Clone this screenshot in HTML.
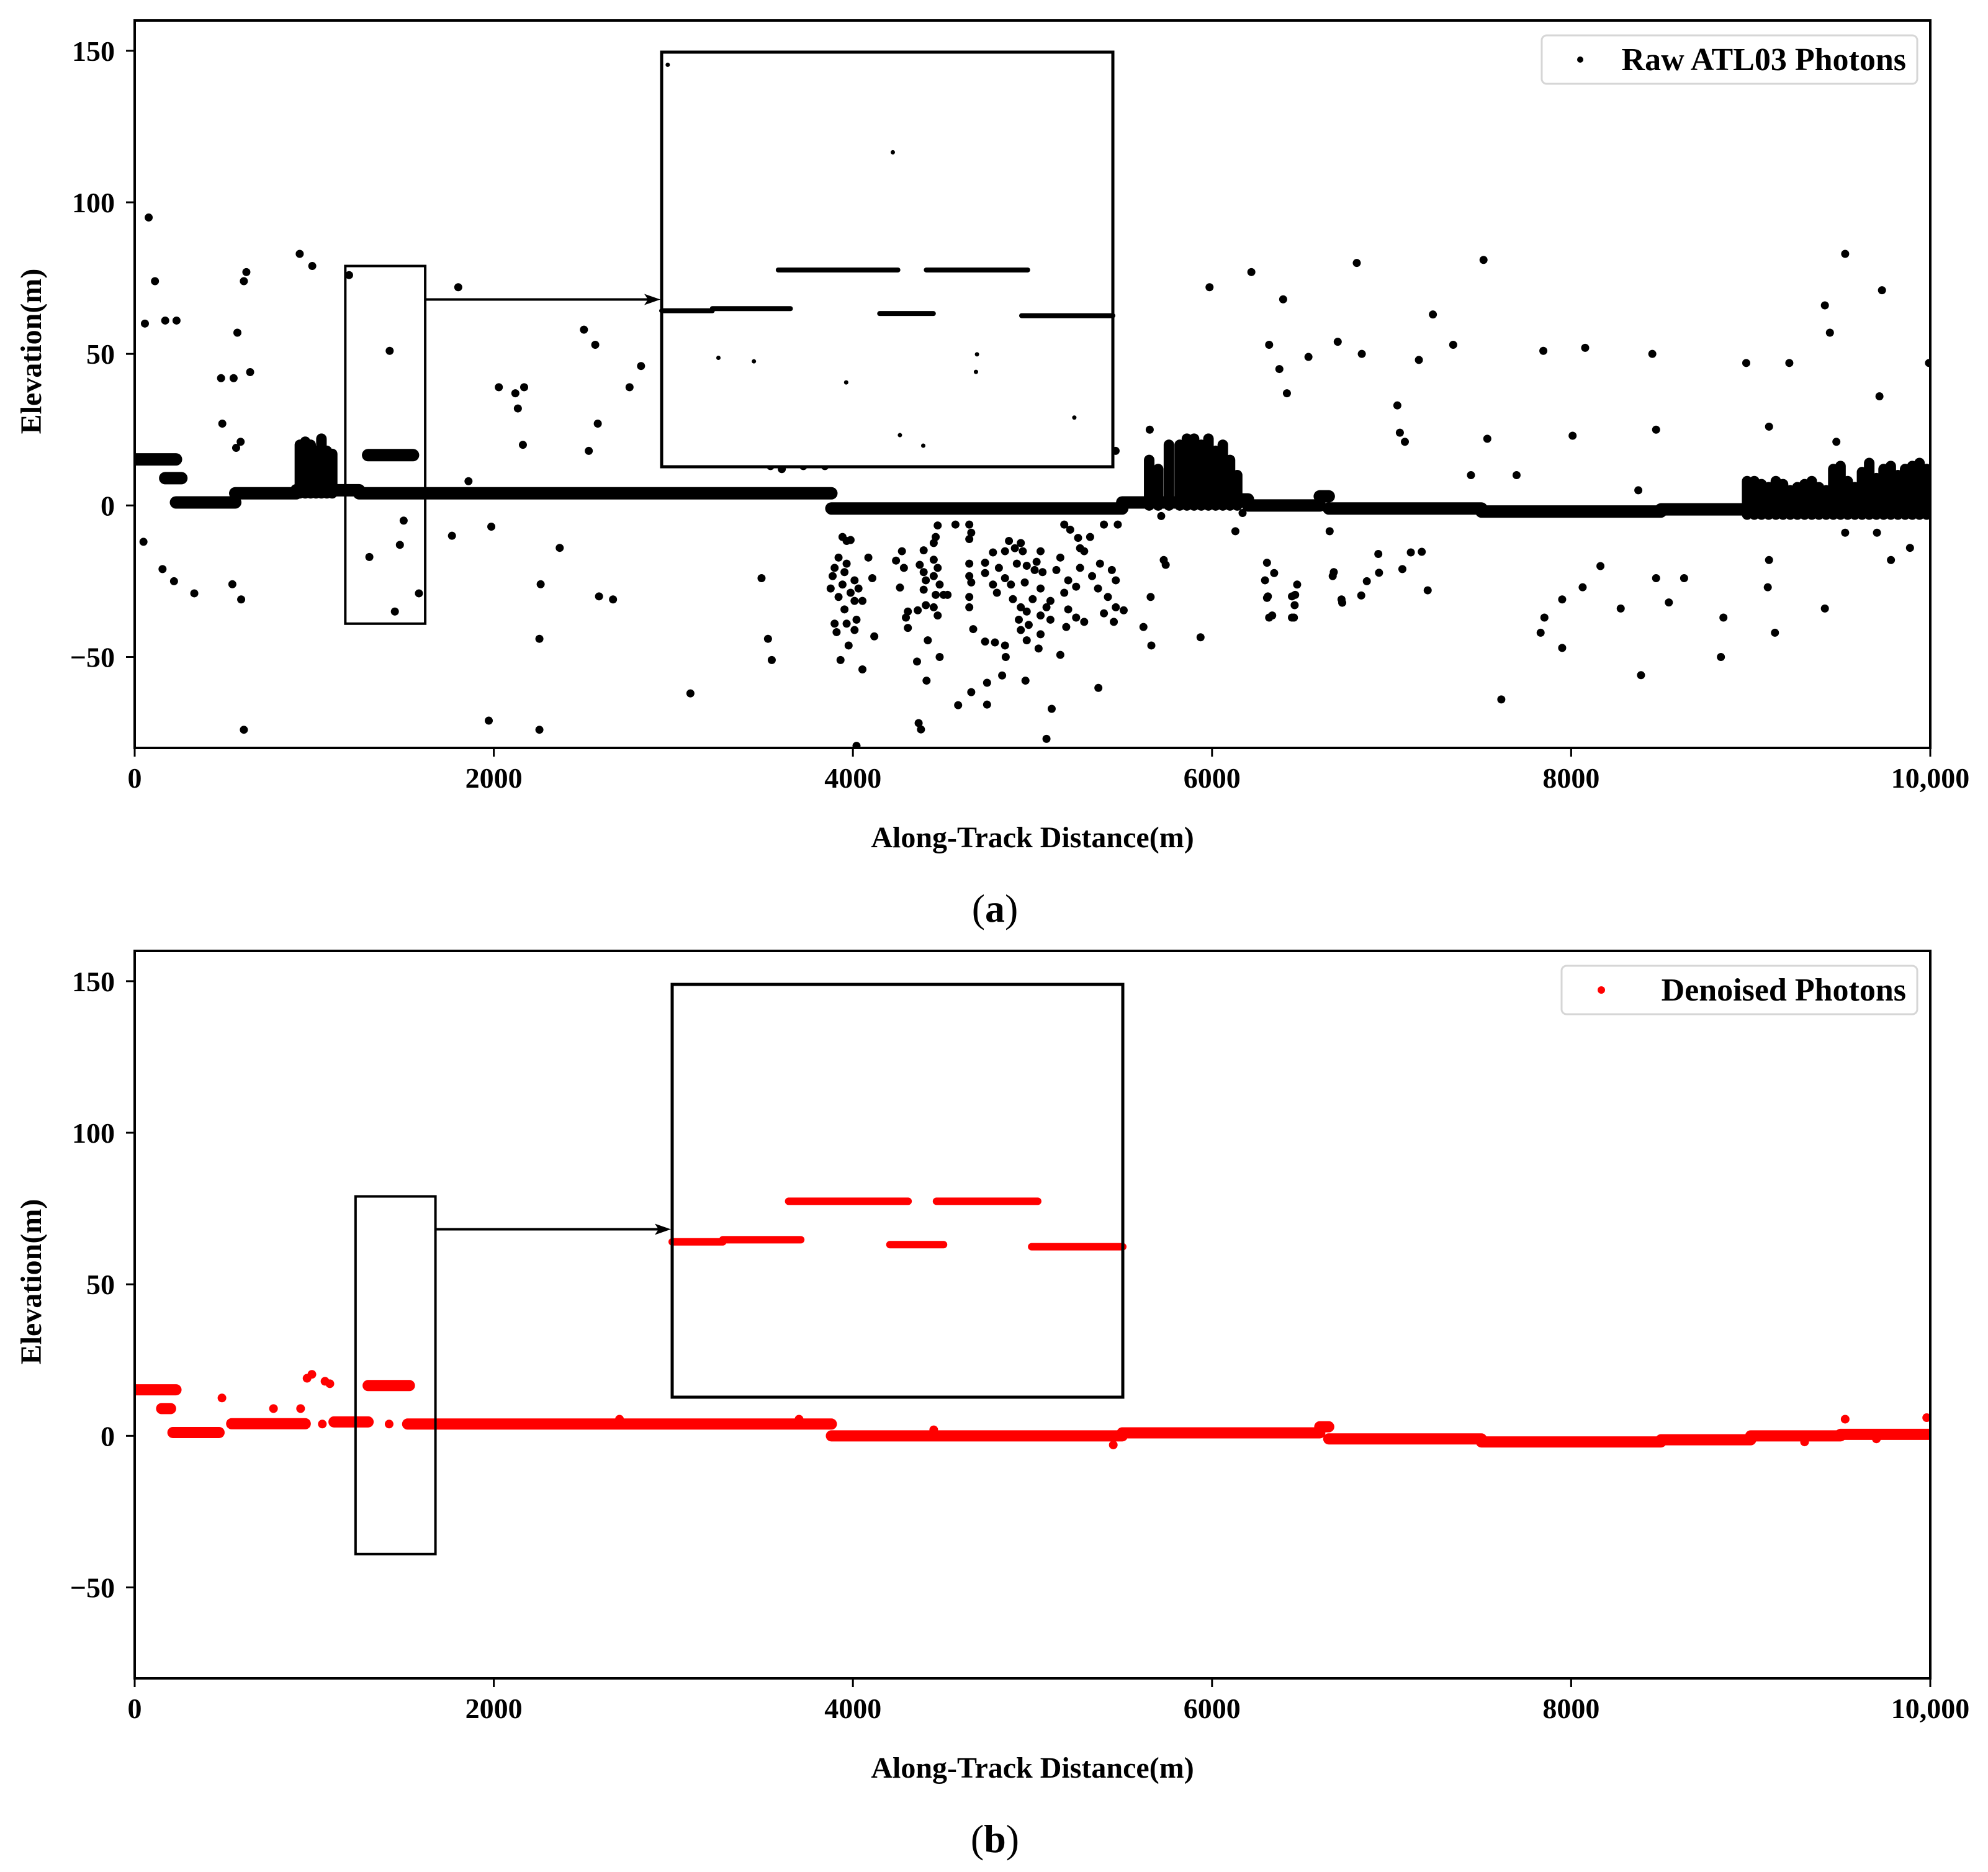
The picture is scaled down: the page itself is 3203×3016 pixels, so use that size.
<!DOCTYPE html>
<html><head><meta charset="utf-8"><style>
html,body{margin:0;padding:0;background:#fff}
svg{display:block}
text{font-family:"Liberation Serif",serif;fill:#000}
</style></head><body>
<svg id="fig" xmlns="http://www.w3.org/2000/svg" width="3203" height="3016" viewBox="0 0 3203 3016">
<rect x="0" y="0" width="3203" height="3016" fill="#fff"/>
</svg>
<script>
// ---- data (along-track m, elevation m) ----
const xTicks = [0,2000,4000,6000,8000,10000];
const xTickLabels = ["0","2000","4000","6000","8000","10,000"];
const yTicks = [-50,0,50,100,150];
const yTickLabels = ["\u221250","0","50","100","150"];
// ground band segments (raw)
const rawSegX0 = [0,170,230,560,900,1300,1250,3880,5500,5900,6200,6600,6650,7500,8500,9000];
const rawSegX1 = [230,260,560,900,1250,1550,3880,5500,5900,6200,6600,6650,7500,8500,9000,10000];
const rawSegY  = [15.2,9,1,4,5,16.6,4,-1,1,2,0,3,-1,-2,-1.3,1.5];
// dense vertical clusters (raw)
const rawStreakX  = [920,950,980,1010,1040,1070,1100,5650,5700,5760,5820,5860,5900,5940,5980,6020,6060,6100,6140,8980,9020,9060,9100,9140,9180,9220,9260,9300,9340,9380,9420,9460,9500,9540,9580,9620,9660,9700,9740,9780,9820,9860,9900,9940,9980];
const rawStreakLo = [4,4,4,4,4,4,4,0,0,0,0,0,0,0,0,0,0,0,0,-3,-3,-3,-3,-3,-3,-3,-3,-3,-3,-3,-3,-3,-3,-3,-3,-3,-3,-3,-3,-3,-3,-3,-3,-3,-3];
const rawStreakHi = [20,21,20,18,22,18,17,15,12,20,20,22,22,20,22,18,20,15,10,8,8,7,6,8,7,5,6,7,8,6,5,12,13,8,6,11,14,9,12,13,10,12,13,14,12];
// scattered noise photons (raw)
const noiseX = [78,113,57,170,233,49,155,219,332,551,565,590,572,608,622,643,919,989,481,488,544,593,608,1194,1420,1307,1477,1498,1449,1583,1802,1972,2028,2120,2169,2134,2162,2254,2254,2261,2502,2565,2579,2529,3095,2820,2756,2586,2664,2367,1986,1767,1859,3541,3527,3548,3491,3604,3724,3844,5463,5653,5731,5986,6219,6318,6396,6375,6417,6537,6700,6806,6834,7032,7046,7074,7152,7230,7343,7512,7533,7442,7696,7611,7845,8078,8008,8452,8473,8374,8389,8834,8848,8975,9102,9215,9413,9441,9477,9526,9731,9717,9993,9526,9703,9781,9887,9135,9413,7830,7851,7950,7950,8064,8276,8163,8473,8544,8629,7060,7201,6862,6721,6445,6445,6318,6311,6678,6926,9095,9102,
3942,3965,3987,3920,3965,3898,3887,3953,4009,3876,3942,3987,4031,3920,4009,4053,3953,3898,3965,4020,4009,3909,3976,3931,4053,4086,4108,4119,
4273,4240,4284,4262,4394,4372,4394,4406,4394,4450,4461,4450,4472,4450,4483,4461,4505,4527,4406,4450,4472,4306,4295,4306,4361,4417,4483,4357,4410,4366,4379,4020,
4648,4659,4648,4648,4659,4648,4648,4670,4736,4736,4780,4802,4813,4780,4847,4869,4902,4935,4946,4968,4913,4847,4880,4891,4957,5012,5045,5023,5056,5045,5001,4935,4968,4924,4979,4935,4968,5045,5100,5078,5100,5155,5133,5199,5243,5177,5199,5265,5288,5321,5254,5265,5332,5376,5365,5442,5464,5420,5398,5464,5508,5453,5288,5243,5188,5045,5034,5155,4736,4791,4847,4851,4831,4961,4747,4659,4747,4586,5107,5078,5367,5618,5662,5658,5742,5936,
4472,4571,4648,5177,5210,5398,5475,5717,6130,6655,6170,6306,6346,6295,6306,6335,6474,6463,6460,6456,6672,6725,6831,6930,7107,7168];
const noiseY = [95,74,60,61,61,-12,-21,-25,-29,42,19,21,57,74,77,44,83,79,42,27,-26,-31,-74,76,51,-17,-13,-5,-35,-29,72,-71,39,37,39,32,20,-74,-44,-26,58,53,27,18,-62,46,39,-30,-31,-14,-7,-10,8,13,-44,-51,-24,12,13,13,18,25,-18,72,77,53,68,45,37,49,54,80,50,33,24,21,48,63,53,81,22,10,10,-64,51,52,23,50,25,5,-56,-50,-37,47,26,47,66,57,21,83,71,36,47,-9,-9,-18,-14,-42,-34,-42,-37,-31,-47,-27,-34,-20,-24,-32,-24,-21,-28,-25,-31,-30,-37,-37,-30,-22,-16,-27,-18,
-10.4,-11.7,-11.4,-17.2,-19.2,-20.6,-23.3,-22,-24.7,-27.4,-26.1,-28.8,-27.4,-30.2,-31.5,-31.5,-34.3,-39,-39,-37.7,-41.1,-41.8,-46.2,-51,-54.1,-17.2,-24,-43.2,
-15.1,-18.2,-20.6,-27.1,-14.8,-19.6,-22,-24.7,-27.8,-12.4,-10.4,-17.9,-20.6,-23.3,-26.1,-29.5,-29.5,-29.5,-32.9,-33.6,-36.3,-35,-37,-40.4,-34.6,-44.5,-50,-51.5,-57.8,-71.8,-73.9,-79.3,
-11.1,-9,-19.2,-23.3,-25.4,-30.2,-33.6,-40.8,-18.9,-22.3,-26.1,-28.8,-20.6,-15.5,-15.1,-11.7,-14.1,-12.4,-15.1,-19.9,-19.2,-24,-26.1,-30.9,-25.4,-21.3,-15.1,-18.6,-22,-27.4,-30.9,-33.6,-35,-37.7,-39.4,-41.1,-44.5,-36.3,-37.7,-33.6,-31.5,-17.2,-21.3,-24.7,-26.8,-28.8,-34.3,-20.6,-15.1,-10.4,-10.7,-14.1,-23.3,-19.2,-27.4,-21.3,-24.7,-30.2,-35.6,-33.6,-34.6,-38.4,-38.4,-37,-40.1,-42.5,-47.2,-49.3,-44.9,-45.2,-46.2,-50,-56.1,-57.8,-58.5,-61.6,-65.7,-65.9,-67.1,-77,-60.2,-40.1,-46.2,-30.2,-19.6,-43.5,
-6.6,-6.3,-6.3,-6.3,-8,-6.3,-6.3,-3.5,-8.5,-8.5,-2.5,-18.9,-22.3,-24.7,-30.5,-36.3,-26.1,-29.5,-32.9,-37,-23.3,-32.1,-29.7,-22.2,-15.5,-15.3];
// denoised band segments
const denSegX0 = [0,150,213,540,1110,1300,1520,3880,5500,6600,6650,7500,8500,9000,9500];
const denSegX1 = [230,200,470,950,1300,1530,3880,5500,6600,6650,7500,8500,9000,9500,10000];
const denSegY  = [15.2,9,1.1,4,4.6,16.6,3.9,0,1,3,-1,-2,-1.3,0,0.5];
const denDotX = [486,987,1087,773,924,1045,1417,9526,9980,2700,3700,4450,5450,9700,9300,960,1060];
const denDotY = [12.5,20.3,17.2,9,9,3.9,3.9,5.5,6,5.5,5.5,2,-3,-1,-2,19,18];
// inset (zoomed) segments: offset from window start (m), elevation
const insetSegDX0 = [0,50,115,215,261,355];
const insetSegDX1 = [50,127,233,268,361,445];
const insetSegY   = [5.4,6,17,4.6,17,4];
const insetNoiseDX = [6,56,91,228,182,258,311,310,407,235];
const insetNoiseY  = [75.4,-8,-9,50.5,-15,-33,-7,-12,-25,-30];
const insetWin = {a:[1173,1618], b:[1230,1675]};
const winY = [-39,79];

// ---- layout ----
const NS = "http://www.w3.org/2000/svg";
const svg = document.getElementById('fig');
const P = {left:217,right:3110,w:2893,h:1172};
const panels = [{key:'a',top:33},{key:'b',top:1532}];
function X(v){return P.left + v/10000*P.w;}
function Yf(top){return v => top + (160 - v)/240*P.h;}
function mk(tag,attrs,parent){const e=document.createElementNS(NS,tag);for(const k in attrs)e.setAttribute(k,attrs[k]);(parent||svg).appendChild(e);return e;}

panels.forEach(pn=>{
  const Y = Yf(pn.top);
  const isA = pn.key==='a';
  const col = isA ? '#000' : '#ff0000';
  const g = mk('g',{});
  
  
  const clip = mk('clipPath',{id:'clip'+pn.key},g);
  mk('rect',{x:P.left,y:pn.top,width:P.w,height:P.h},clip);
  const data = mk('g',{'clip-path':'url(#clip'+pn.key+')'},g);
  
  
  const sx0 = isA?rawSegX0:denSegX0, sx1 = isA?rawSegX1:denSegX1, sy = isA?rawSegY:denSegY;
  for(let i=0;i<sx0.length;i++){
    const l = mk('line',{x1:X(sx0[i]),x2:X(sx1[i]),y1:Y(sy[i]),y2:Y(sy[i]),stroke:col,'stroke-width':isA?20:18,'stroke-linecap':'round'},data);
    
    
  }
  if(isA){
    for(let i=0;i<rawStreakX.length;i++){
      const l = mk('line',{x1:X(rawStreakX[i]),x2:X(rawStreakX[i]),y1:Y(rawStreakLo[i]),y2:Y(rawStreakHi[i]),stroke:col,'stroke-width':17,'stroke-linecap':'round'},data);
      
      
    }
    for(let i=0;i<noiseX.length;i++){
      const c = mk('circle',{cx:X(noiseX[i]),cy:Y(noiseY[i]),r:6.5,fill:col},data);
      
      
    }
  } else {
    for(let i=0;i<denDotX.length;i++){
      const c = mk('circle',{cx:X(denDotX[i]),cy:Y(denDotY[i]),r:7,fill:col},data);
      
      
    }
  }
  // axes frame
  const fr = mk('rect',{x:P.left,y:pn.top,width:P.w,height:P.h,fill:'none',stroke:'#000','stroke-width':4},g);
  
  
  // ticks
  xTicks.forEach((t,i)=>{
    mk('line',{x1:X(t),x2:X(t),y1:pn.top+P.h,y2:pn.top+P.h+14,stroke:'#000','stroke-width':3},g);
    const tx = mk('text',{x:X(t),y:pn.top+P.h+64,'font-size':46,'font-weight':'bold','text-anchor':'middle'},g);
    tx.textContent = xTickLabels[i];
    
    
  });
  yTicks.forEach((t,i)=>{
    mk('line',{x1:P.left-14,x2:P.left,y1:Y(t),y2:Y(t),stroke:'#000','stroke-width':3},g);
    const tx = mk('text',{x:P.left-32,y:Y(t)+16,'font-size':46,'font-weight':'bold','text-anchor':'end'},g);
    tx.textContent = yTickLabels[i];
    
    
  });
  const xt = mk('text',{x:P.left+P.w/2,y:pn.top+P.h+160,'font-size':48,'font-weight':'bold','text-anchor':'middle'},g);
  xt.textContent = 'Along-Track Distance(m)';
  
  
  const yc = pn.top+533;
  const yt = mk('text',{x:66,y:yc,'font-size':48,'font-weight':'bold','text-anchor':'middle',transform:'rotate(-90 66 '+yc+')'},g);
  yt.textContent = 'Elevation(m)';
  
  
  const cap = mk('text',{x:1603,y:pn.top+P.h+280,'font-size':64,'text-anchor':'middle'},g);
  cap.innerHTML = '(<tspan font-weight="bold">'+pn.key+'</tspan>)';
  
  
  // legend
  const lg = mk('g',{},g);
  
  
  const lx = isA?2484:2516, lw = isA?605:573;
  mk('rect',{x:lx,y:pn.top+24,width:lw,height:78,rx:8,fill:'#fff',stroke:'#d6d6d6','stroke-width':3},lg);
  mk('circle',{cx:lx+(isA?62:64),cy:pn.top+63,r:isA?5:6,fill:col},lg);
  const lt = mk('text',{x:lx+lw-18,y:pn.top+80,'font-size':52,'font-weight':'bold','text-anchor':'end'},lg);
  lt.textContent = isA?'Raw ATL03 Photons':'Denoised Photons';
  
  
  // zoom window + arrow + inset
  const win = insetWin[pn.key];
  const wx0 = X(win[0]), wx1 = X(win[1]), wy0 = Y(winY[1]), wy1 = Y(winY[0]);
  const wr = mk('rect',{x:wx0,y:wy0,width:wx1-wx0,height:wy1-wy0,fill:'none',stroke:'#000','stroke-width':4},g);
  
  
  const ib = isA?{x:1066,y:84,w:727,h:668}:{x:1083,y:1586,w:726,h:665};
  const ay = wy0 + (isA?54:53);
  mk('line',{x1:wx1,x2:ib.x-22,y1:ay,y2:ay,stroke:'#000','stroke-width':4},g);
  mk('path',{d:'M'+(ib.x-2)+' '+ay+' L'+(ib.x-28)+' '+(ay-9)+' L'+(ib.x-22)+' '+ay+' L'+(ib.x-28)+' '+(ay+9)+' Z',fill:'#000'},g);
  const ig = mk('g',{},g);
  
  
  mk('rect',{x:ib.x,y:ib.y,width:ib.w,height:ib.h,fill:'#fff'},ig);
  const IX = d => ib.x + d/(win[1]-win[0])*ib.w;
  const IY = v => ib.y + (winY[1]-v)/(winY[1]-winY[0])*ib.h;
  for(let i=0;i<insetSegDX0.length;i++){
    const l = mk('line',{x1:IX(insetSegDX0[i]),x2:IX(insetSegDX1[i]),y1:IY(insetSegY[i]),y2:IY(insetSegY[i]),stroke:col,'stroke-width':isA?8:12,'stroke-linecap':'round'},ig);
    
    
  }
  if(isA){
    for(let i=0;i<insetNoiseDX.length;i++){
      const c = mk('circle',{cx:IX(insetNoiseDX[i]),cy:IY(insetNoiseY[i]),r:3.5,fill:col},ig);
      
      
    }
  }
  mk('rect',{x:ib.x,y:ib.y,width:ib.w,height:ib.h,fill:'none',stroke:'#000','stroke-width':5},ig);
});
</script>
</body></html>
